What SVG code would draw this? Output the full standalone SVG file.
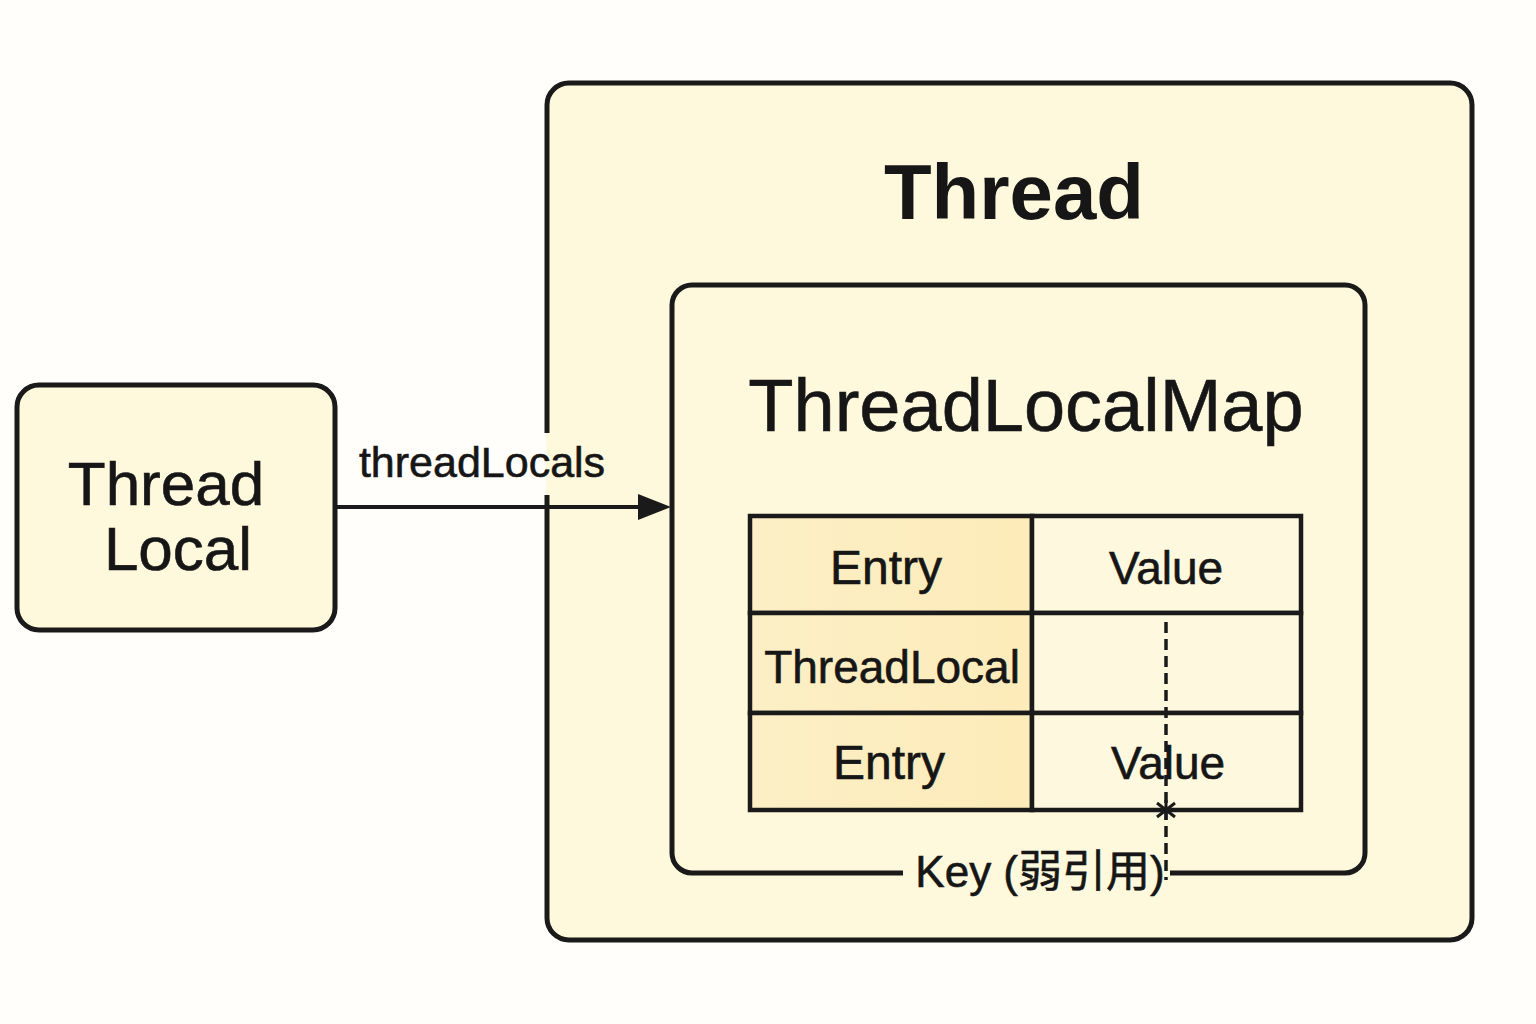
<svg xmlns="http://www.w3.org/2000/svg" width="1536" height="1024" viewBox="0 0 1536 1024">
<defs>
<style>
.box{fill:#fef8dc;stroke:#1a1a1a;stroke-width:5}
.cell{stroke:#1a1a1a;stroke-width:4.5}
.t{font-family:"Liberation Sans","Noto Sans CJK SC",sans-serif;fill:#161616;text-anchor:middle;stroke:#161616;stroke-width:0.6}
.line{stroke:#1a1a1a;stroke-width:4;fill:none}
</style>
<linearGradient id="eg" x1="0" y1="0" x2="1" y2="0">
<stop offset="0" stop-color="#fcefc6"/>
<stop offset="1" stop-color="#fdebb9"/>
</linearGradient>
</defs>
<rect width="1536" height="1024" fill="#fffefa"/>

<g id="thread">
<rect class="box" x="547" y="83" width="925" height="857" rx="22"/>
<text class="t" x="1014" y="219" font-size="78" font-weight="bold" style="stroke-width:0">Thread</text>
</g>

<g id="threadLocal">
<rect class="box" x="17" y="385" width="318" height="245" rx="22"/>
<text class="t" x="166" y="505" font-size="62">Thread</text>
<text class="t" x="178" y="570" font-size="62">Local</text>
</g>

<g id="threadLocalMap">
<rect class="box" x="672" y="285" width="693" height="588" rx="20"/>
<rect x="903" y="862" width="267" height="22" fill="#fef8dc"/>
<text class="t" x="1026" y="431" font-size="74">ThreadLocalMap</text>
</g>

<g id="table">
<rect class="cell" x="750" y="516" width="282" height="97" fill="url(#eg)"/>
<rect class="cell" x="1032" y="516" width="269" height="97" fill="#fef8de"/>
<rect class="cell" x="750" y="613" width="282" height="100" fill="url(#eg)"/>
<rect class="cell" x="1032" y="613" width="269" height="100" fill="#fef8de"/>
<rect class="cell" x="750" y="713" width="282" height="97" fill="url(#eg)"/>
<rect class="cell" x="1032" y="713" width="269" height="97" fill="#fef8de"/>
<text class="t" x="886" y="584" font-size="48">Entry</text>
<text class="t" x="1166" y="584" font-size="46">Value</text>
<text class="t" x="892" y="683" font-size="46">ThreadLocal</text>
</g>

<g id="connectors">
<rect x="340" y="433" width="206" height="62" fill="#fffefa"/>
<rect x="546" y="433" width="5" height="62" fill="#fef8dc"/>
<text class="t" x="482" y="477" font-size="43">threadLocals</text>
<line class="line" x1="335" y1="507" x2="640" y2="507"/>
<path d="M638,494 L671,507 L638,520 Z" fill="#1a1a1a"/>
<line x1="1166" y1="622" x2="1166" y2="880" stroke="#1a1a1a" stroke-width="3.5" stroke-dasharray="11,6"/>
<path d="M1157,803 L1175,817 M1175,803 L1157,817 M1166,800 L1166,820" stroke="#1a1a1a" stroke-width="3"/>
</g>

<g id="labels">
<text class="t" x="889" y="779" font-size="48">Entry</text>
<text class="t" x="1168" y="779" font-size="46">Value</text>
<text class="t" x="1040" y="887" font-size="44">Key (弱引用)</text>
</g>
</svg>
